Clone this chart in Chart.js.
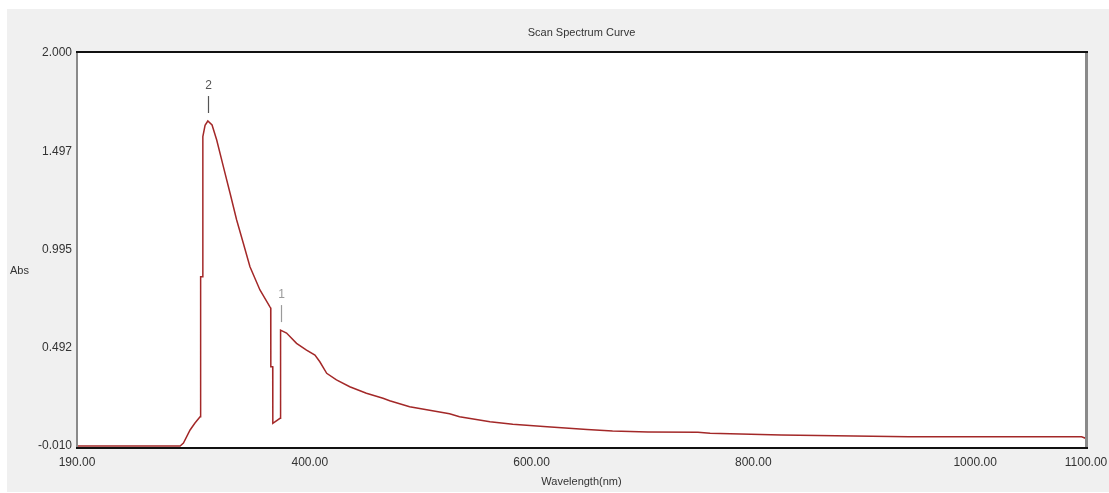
<!DOCTYPE html>
<html>
<head>
<meta charset="utf-8">
<script src="https://cdn.jsdelivr.net/npm/chart.js@4"></script>
<style>
  html, body { margin: 0; padding: 0; background: #fff; }
  #wrap { position: absolute; left: 7px; top: 9px; width: 1102px; height: 483px; background: #f0f0f0; }
</style>
</head>
<body>
<div id="wrap"><canvas id="canvas"></canvas></div>
<script>
// wavelength (nm) and absorbance
const wavelengths = [190, 283, 286, 292, 296.4, 301, 301.5, 303, 303.5, 305.5, 308, 311.8, 316, 322, 328, 334, 340, 346, 355, 364, 364.7,
  364.8, 366.5, 366.6, 373.1, 373.5, 373.7, 379, 388, 397, 404.6, 409, 415.2, 424, 436, 451, 466, 472, 490, 526, 535, 562.5,
  583, 614, 650, 673, 705, 750, 761, 825, 940, 1096, 1100];
const absorbance = [-0.010, -0.010, 0.005, 0.072, 0.108, 0.140, 0.856, 0.856, 1.572, 1.630, 1.652, 1.632, 1.555, 1.419, 1.284, 1.146, 1.027, 0.907, 0.788, 0.702, 0.696,
  0.396, 0.396, 0.106, 0.132, 0.353, 0.583, 0.568, 0.515, 0.481, 0.455, 0.421, 0.362, 0.328, 0.293, 0.260, 0.234, 0.222, 0.191, 0.155, 0.140, 0.114,
  0.101, 0.089, 0.075, 0.067, 0.062, 0.060, 0.055, 0.046, 0.037, 0.037, 0.029];

const xTicks = [190, 400, 600, 800, 1000, 1100];
const yTicks = [-0.010, 0.492, 0.995, 1.497, 2.000];

// peak picks
const peakLabels = ['2', '1'];
const peakWavelengths = [308, 373.7];
const peakValues = [1.652, 0.583];

const family = "'Liberation Sans', Arial, sans-serif";
const font = { family: family, size: 11, weight: 'normal' };
const tickFont = { family: family, size: 12, weight: 'normal' };
const textColor = '#333';

const points = wavelengths.map((w, i) => ({ x: w, y: absorbance[i] }));

const frame = {
  id: 'frame',
  beforeDatasetsDraw(chart) {
    const { ctx, chartArea: a } = chart;
    ctx.save();
    ctx.fillStyle = '#fff';
    ctx.fillRect(a.left, a.top, a.right - a.left, a.bottom - a.top);
    ctx.restore();
  },
  afterDatasetsDraw(chart) {
    const { ctx, chartArea: a, scales } = chart;
    ctx.save();
    // sunken border
    ctx.lineWidth = 2;
    ctx.strokeStyle = '#8a8a8a';
    ctx.beginPath();
    ctx.moveTo(a.left, a.top); ctx.lineTo(a.left, a.bottom);
    ctx.stroke();
    ctx.lineWidth = 3;
    ctx.beginPath();
    ctx.moveTo(a.right + 0.5, a.top); ctx.lineTo(a.right + 0.5, a.bottom);
    ctx.stroke();
    ctx.lineWidth = 2;
    ctx.strokeStyle = '#111';
    ctx.beginPath();
    ctx.moveTo(a.left - 1, a.top); ctx.lineTo(a.right + 2, a.top);
    ctx.moveTo(a.left - 1, a.bottom); ctx.lineTo(a.right + 2, a.bottom);
    ctx.stroke();

    // y axis caption, drawn flat like the original
    ctx.font = "11px " + family;
    ctx.fillStyle = textColor;
    ctx.textAlign = 'left';
    ctx.textBaseline = 'middle';
    ctx.fillText('Abs', 3, 262);

    // peak markers
    ctx.font = "12px " + family;
    ctx.textAlign = 'center';
    peakLabels.forEach((lab, i) => {
      const px = Math.round(scales.x.getPixelForValue(peakWavelengths[i])) + 0.5;
      const py = scales.y.getPixelForValue(peakValues[i]);
      const c = i === 0 ? '#555' : '#9a9a9a';
      ctx.strokeStyle = c;
      ctx.fillStyle = c;
      ctx.lineWidth = 1.2;
      ctx.beginPath();
      ctx.moveTo(px, py - 8); ctx.lineTo(px, py - 25);
      ctx.stroke();
      ctx.fillText(lab, px, py - 35);
    });
    ctx.restore();
  }
};

const config = {
  type: 'line',
  data: {
    datasets: [{
      data: points,
      borderColor: '#a32828',
      borderWidth: 1.5,
      pointRadius: 0,
      tension: 0,
      fill: false,
    }],
  },
  options: {
    responsive: true,
    maintainAspectRatio: false,
    animation: false,
    layout: { padding: { left: 0, right: 23, top: 0, bottom: 0 } },
    plugins: {
      legend: { display: false },
      tooltip: { enabled: false },
      title: {
        display: true,
        text: 'Scan Spectrum Curve',
        fullSize: false,
        color: textColor,
        font: font,
        padding: { top: 17.4, bottom: 12.4 },
      },
    },
    scales: {
      x: {
        type: 'linear',
        min: 190,
        max: 1100,
        afterBuildTicks: s => { s.ticks = xTicks.map(v => ({ value: v })); },
        afterFit: s => { s.height = 44; s.paddingLeft = 0; s.paddingRight = 0; },
        grid: { display: false, drawTicks: false },
        border: { display: false },
        ticks: { padding: 7.8, color: textColor, font: tickFont, maxRotation: 0, autoSkip: false, callback: v => Number(v).toFixed(2) },
        title: { display: true, text: 'Wavelength(nm)', color: textColor, font: font, padding: { top: 0, bottom: 3.4 } },
      },
      y: {
        min: -0.020,
        max: 2.005,
        afterBuildTicks: s => { s.ticks = yTicks.map(v => ({ value: v })); },
        afterFit: s => { s.width = 70; s.paddingTop = 0; s.paddingBottom = 0; },
        grid: { display: false, drawTicks: false },
        border: { display: false },
        ticks: { padding: 5, color: textColor, font: tickFont, autoSkip: false, callback: v => Number(v).toFixed(3) },
      },
    },
  },
  plugins: [frame],
};

const canvas = document.getElementById('canvas');
const chart = new Chart(canvas, config);
</script>
</body>
</html>
